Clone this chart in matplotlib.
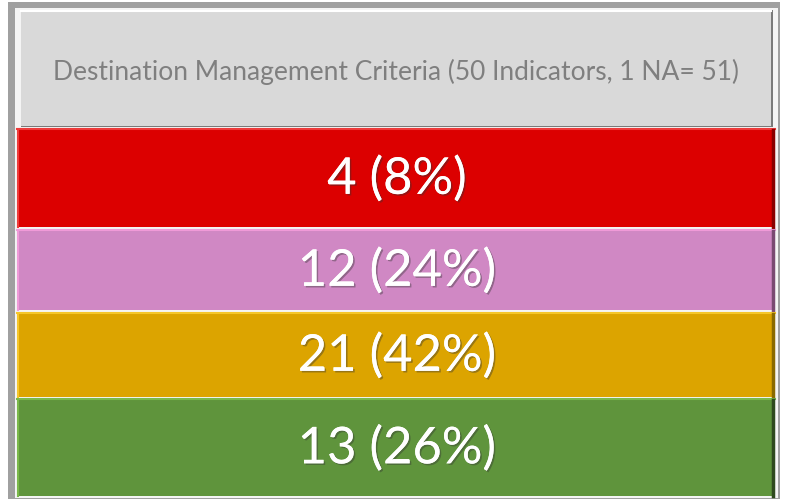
import matplotlib
matplotlib.use('Agg')
import matplotlib.pyplot as plt
import matplotlib.patheffects as pe

# Dados
titulo = 'Destination Management Criteria (50 Indicators, 1 NA= 51)'
valores = [4, 12, 21, 13]
total = 50
cores = ['#dc0000', '#d088c4', '#dca400', '#5f943c']
bordas_claras = ['#ee3a3a', '#f09ad8', '#f5c62a', '#7ab84a']
bordas_escuras = ['#8a0000', '#7a4a72', '#8a6a00', '#2f4a1e']

rotulos = ['%d (%d%%)' % (v, round(100 * v / total)) for v in valores]

# Layout das faixas (pixels)
topo = [128, 229, 312, 398]
altura = [99, 81, 85, 98]
x0, x1 = 17, 775

fig = plt.figure(figsize=(7.88, 5), dpi=100)
fig.patch.set_facecolor('white')
ax = fig.add_axes([0, 0, 1, 1])
ax.set_xlim(0, 788)
ax.set_ylim(500, 0)
ax.axis('off')

# moldura cinza
ax.add_patch(plt.Rectangle((8, 2), 772, 497, facecolor='#a0a0a0', edgecolor='none'))
ax.add_patch(plt.Rectangle((15, 8), 763, 490, facecolor='#f4f4f4', edgecolor='none'))

# cabecalho
ax.barh(68.5, 752, height=117, left=21, color='#7a7a7a', align='center')
ax.barh(68.5, 750, height=115, left=21, color='#d9d9d9', align='center')
ax.plot([21, 771], [11, 11], color='white', lw=1.5)
ax.text(396, 72, titulo, ha='center', va='center', fontsize=19,
        color='#7f7f7f', family=['Lato', 'DejaVu Sans'])

for i in range(len(valores)):
    ax.barh(topo[i] + altura[i] / 2, x1 - x0, height=altura[i], left=x0,
            color=cores[i], align='center')
    ax.plot([x0, x1], [topo[i] + 1, topo[i] + 1], color=bordas_claras[i], lw=1.5)
    ax.plot([x1 - 1.5, x1 - 1.5], [topo[i] + 2, topo[i] + altura[i]],
            color=bordas_escuras[i], lw=2.5)
    ax.plot([x0 + 1, x0 + 1], [topo[i] + 2, topo[i] + altura[i]],
            color=bordas_claras[i], lw=1.5)
    ax.text(397, topo[i] + altura[i] / 2 + 2, rotulos[i], ha='center', va='center',
            fontsize=36.5, color='white', family=['Lato', 'DejaVu Sans'],
            path_effects=[pe.withSimplePatchShadow(offset=(1.2, -1.2),
                                                   shadow_rgbFace='#333333', alpha=0.4),
                          pe.Normal()])

fig.savefig('out.png', dpi=100)
